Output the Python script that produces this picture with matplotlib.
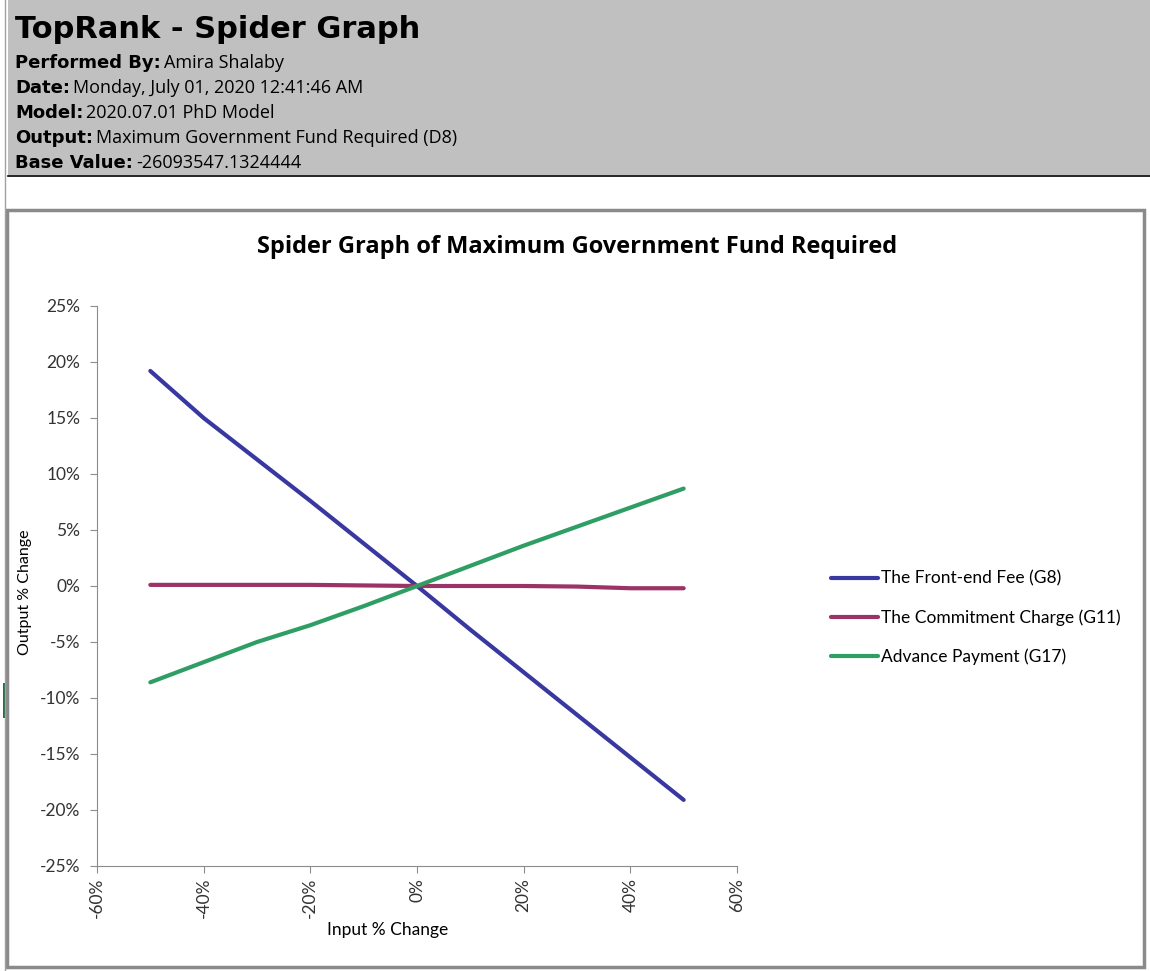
import matplotlib
matplotlib.use("Agg")
import matplotlib.pyplot as plt
from matplotlib.patches import Rectangle
from matplotlib.lines import Line2D
from matplotlib.ticker import FuncFormatter

plt.rcParams["axes.unicode_minus"] = False

# data
input_change = [-50, -40, -30, -20, -10, 0, 10, 20, 30, 40, 50]
front_end_fee = [19.2, 15.0, 11.3, 7.6, 3.8, 0.0, -3.9, -7.7, -11.5, -15.3, -19.1]
commitment_charge = [0.1, 0.1, 0.1, 0.1, 0.05, 0.0, 0.0, 0.0, -0.05, -0.2, -0.2]
advance_payment = [-8.6, -6.8, -5.0, -3.5, -1.8, 0.0, 1.8, 3.6, 5.3, 7.0, 8.7]
series_names = ["The Front-end Fee (G8)", "The Commitment Charge (G11)", "Advance Payment (G17)"]
colors = ["#3838a0", "#9b3366", "#2e9e65"]

header_rows = [
    ("Performed By:", "Amira Shalaby"),
    ("Date:", "Monday, July 01, 2020 12:41:46 AM"),
    ("Model:", "2020.07.01 PhD Model"),
    ("Output:", "Maximum Government Fund Required (D8)"),
    ("Base Value:", "-26093547.1324444"),
]

W, H = 1150, 971
fig = plt.figure(figsize=(W / 100, H / 100), dpi=100)
fig.patch.set_facecolor("white")

def px(x, y):
    return x / W, 1 - y / H

# header band
fig.add_artist(Rectangle(px(8, 175), (W - 8) / W, 175 / H, transform=fig.transFigure,
                         facecolor="#c0c0c0", edgecolor="none", zorder=0))
fig.add_artist(Line2D([8 / W, 1], [1 - 176 / H] * 2, transform=fig.transFigure, color="black", lw=1.2))
fig.add_artist(Line2D([5 / W] * 2, [0, 1], transform=fig.transFigure, color="#a0a0a0", lw=1))
fig.add_artist(Rectangle(px(3, 718), 3 / W, 35 / H, transform=fig.transFigure,
                         facecolor="#217346", edgecolor="none"))
# chart frame
fig.add_artist(Rectangle(px(7, 967), 1137 / W, 757 / H, transform=fig.transFigure,
                         facecolor="white", edgecolor="#8a8a8a", lw=2.5, zorder=0))

hfont = "DejaVu Sans"
fig.text(*px(15, 30), "TopRank - Spider Graph", fontsize=22, fontweight="bold",
         family=hfont, va="center", ha="left")

fig.canvas.draw()
renderer = fig.canvas.get_renderer()
for i, (label, value) in enumerate(header_rows):
    x0, y0 = px(15, 63 + 25 * i)
    t = fig.text(x0, y0, label, fontsize=13, fontweight="bold", family=hfont, va="center", ha="left")
    bb = t.get_window_extent(renderer=renderer)
    fig.text(bb.x1 / W + 3 / W, y0, value, fontsize=13, family="Open Sans", va="center", ha="left")

# chart
cfont = "Lato"
ax = fig.add_axes([97 / W, 1 - 866 / H, 640 / W, 560 / H])
for ys, name, c in zip([front_end_fee, commitment_charge, advance_payment], series_names, colors):
    ax.plot(input_change, ys, color=c, lw=3, solid_capstyle="round", label=name)

ax.set_xlim(-60, 60)
ax.set_ylim(-25, 25)
ax.set_xticks(range(-60, 61, 20))
ax.set_yticks(range(-25, 26, 5))
pct = FuncFormatter(lambda v, p: f"{v:.0f}%")
ax.xaxis.set_major_formatter(pct)
ax.yaxis.set_major_formatter(pct)
for s in ["top", "right"]:
    ax.spines[s].set_visible(False)
for s in ["left", "bottom"]:
    ax.spines[s].set_color("#8c8c8c")
ax.tick_params(colors="#8c8c8c", labelcolor="#333333", length=5, labelsize=12.5)
ax.tick_params(axis="y", pad=7)
for lbl in ax.get_xticklabels():
    lbl.set_rotation(90)
    lbl.set_family(cfont)
for lbl in ax.get_yticklabels():
    lbl.set_family(cfont)

fig.text(*px(577, 247), "Spider Graph of Maximum Government Fund Required", fontsize=17,
         fontweight="bold", family="Open Sans", ha="center", va="center")
fig.text(*px(25, 592), "Output % Change", rotation=90, fontsize=11.5, family=cfont, ha="center", va="center")
fig.text(*px(388, 930), "Input % Change", fontsize=12.5, family=cfont, ha="center", va="center")

leg = ax.legend(loc="center left", bbox_to_anchor=(px(815, 618)), bbox_transform=fig.transFigure,
                frameon=False, prop={"family": cfont, "size": 12.5}, handlelength=2.7,
                handletextpad=0.2, labelspacing=1.3)

fig.savefig("out.png", dpi=100)
